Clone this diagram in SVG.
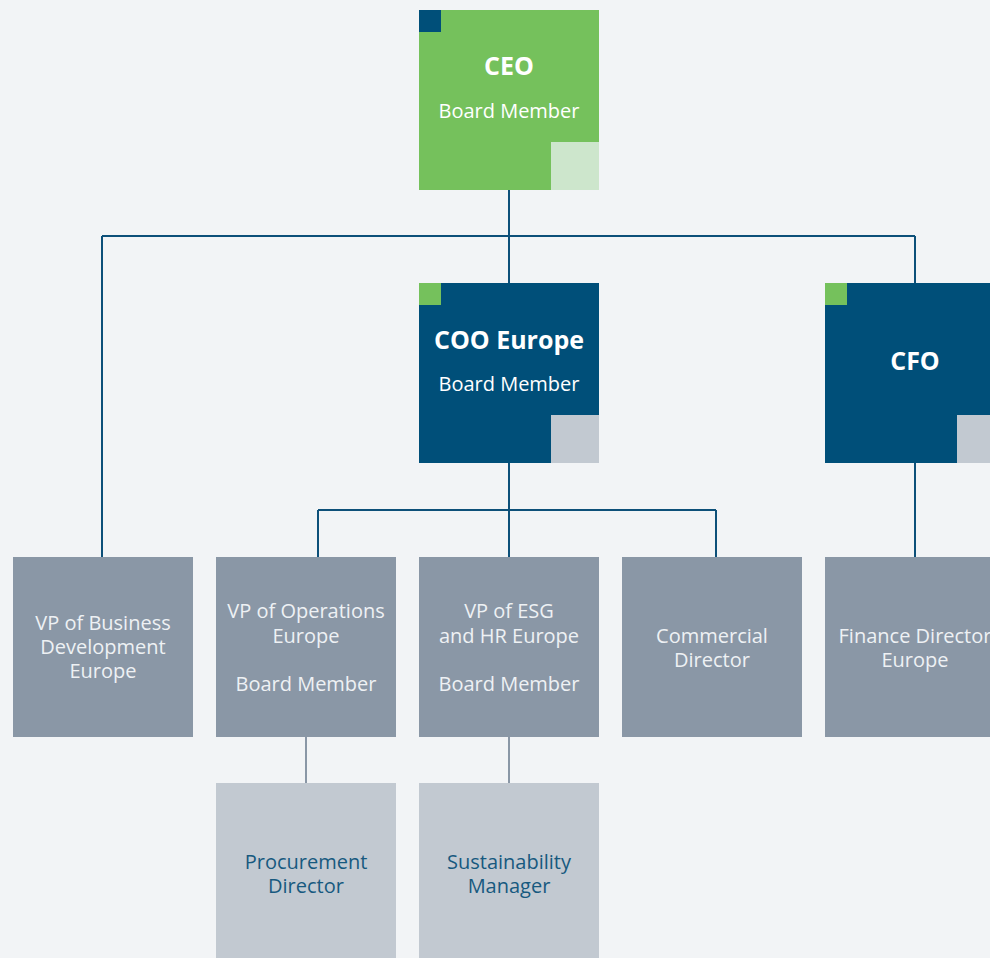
<svg xmlns="http://www.w3.org/2000/svg" width="990" height="958" viewBox="0 0 990 958">
<style>
text{font-family:"Open Sans","Noto Sans","Liberation Sans",sans-serif;text-anchor:middle}
.t{font-size:25px;font-weight:700;fill:#fff}
.s{font-size:20px;fill:#fff}
.g{font-size:20px;fill:#eef1f4}
.d{font-size:20px;fill:#17597f}
.lk{fill:none;stroke:#0d5079;stroke-width:2}
.lg{fill:none;stroke:#8a97a6;stroke-width:2}
.green{fill:#75c15c}
.blue{fill:#004f79}
.gray{fill:#8a97a6}
.lgray{fill:#c2c9d1}
</style>
<rect width="990" height="958" fill="#f2f4f6"/>
<g id="connectors">
<path class="lk" d="M509 190V236M102 236H915M102 236V557M509 236V283M915 236V283"/>
<path class="lk" d="M509 463V510M318 510H716M318 510V557M509 510V557M716 510V557M915 463V557"/>
<path class="lg" d="M306 737V783M509 737V783"/>
</g>
<g id="ceo">
<rect class="green" x="419" y="10" width="180" height="180"/>
<rect class="blue" x="419" y="10" width="22" height="22"/>
<rect x="551" y="142" width="48" height="48" fill="#cde6cc"/>
<text class="t" x="509" y="75">CEO</text>
<text class="s" x="509" y="118">Board Member</text>
</g>
<g id="coo">
<rect class="blue" x="419" y="283" width="180" height="180"/>
<rect class="green" x="419" y="283" width="22" height="22"/>
<rect class="lgray" x="551" y="415" width="48" height="48"/>
<text class="t" x="509" y="349">COO Europe</text>
<text class="s" x="509" y="391">Board Member</text>
</g>
<g id="cfo">
<rect class="blue" x="825" y="283" width="180" height="180"/>
<rect class="green" x="825" y="283" width="22" height="22"/>
<rect class="lgray" x="957" y="415" width="48" height="48"/>
<text class="t" x="915" y="370">CFO</text>
</g>
<g id="vp-bizdev">
<rect class="gray" x="13" y="557" width="180" height="180"/>
<text class="g" x="103" y="630">VP of Business</text>
<text class="g" x="103" y="654">Development</text>
<text class="g" x="103" y="678">Europe</text>
</g>
<g id="vp-ops">
<rect class="gray" x="216" y="557" width="180" height="180"/>
<text class="g" x="306" y="618">VP of Operations</text>
<text class="g" x="306" y="643">Europe</text>
<text class="g" x="306" y="691">Board Member</text>
</g>
<g id="vp-esg">
<rect class="gray" x="419" y="557" width="180" height="180"/>
<text class="g" x="509" y="618">VP of ESG</text>
<text class="g" x="509" y="643">and HR Europe</text>
<text class="g" x="509" y="691">Board Member</text>
</g>
<g id="commercial">
<rect class="gray" x="622" y="557" width="180" height="180"/>
<text class="g" x="712" y="643">Commercial</text>
<text class="g" x="712" y="667">Director</text>
</g>
<g id="finance">
<rect class="gray" x="825" y="557" width="180" height="180"/>
<text class="g" x="915" y="643">Finance Director</text>
<text class="g" x="915" y="667">Europe</text>
</g>
<g id="procurement">
<rect class="lgray" x="216" y="783" width="180" height="180"/>
<text class="d" x="306" y="869">Procurement</text>
<text class="d" x="306" y="893">Director</text>
</g>
<g id="sustainability">
<rect class="lgray" x="419" y="783" width="180" height="180"/>
<text class="d" x="509" y="869">Sustainability</text>
<text class="d" x="509" y="893">Manager</text>
</g>
</svg>
